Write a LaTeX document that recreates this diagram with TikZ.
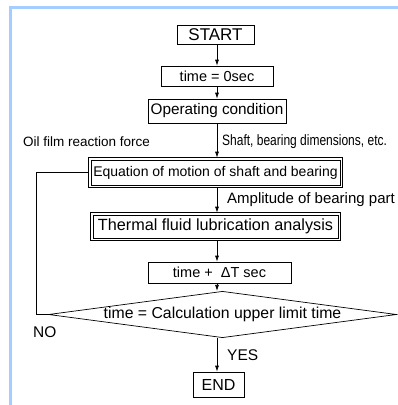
\documentclass[tikz,border=0pt]{standalone}
\usepackage{fontspec}
\setmainfont{Liberation Sans}
\usetikzlibrary{arrows.meta,shapes.geometric}
\definecolor{framecol}{RGB}{163,206,255}
\newcommand{\fs}[1]{\fontsize{#1}{#1}\selectfont}
\begin{document}
\begin{tikzpicture}[x=1pt,y=-1pt,
    flow/.style={draw,line width=0.7pt,inner sep=0pt,font=\fs{15}},
    arrow/.style={line width=0.7pt,-{Latex[length=6pt,width=4pt]}},
    note/.style={anchor=west,inner sep=0pt,font=\fs{15}}]
    \useasboundingbox (0,0) rectangle (398,405);

    % Frame
    \draw[framecol,line width=3pt] (10.5,405) -- (10.5,7.5) -- (398,7.5);

    % Boxes
    \node[flow,minimum width=77pt,minimum height=19pt,font=\fs{17}] (start) at (215.5,34.5) {START};
    \node[flow,minimum width=112pt,minimum height=20pt,font=\fs{14.5}] (t0) at (217,76) {time = 0sec};
    \node[flow,minimum width=138pt,minimum height=24pt,font=\fs{15.3}] (opcond) at (217,111) {Operating condition};
    \node[flow,minimum width=249pt,minimum height=25pt,font=\fs{14}] (eqn) at (215.5,172.5) {Equation of motion of shaft and bearing};
    \node[flow,minimum width=245pt,minimum height=23pt,font=\fs{16.2}] (thermal) at (215.5,226.5) {Thermal fluid lubrication analysis};
    \node[flow,minimum width=143pt,minimum height=21pt,font=\fs{14.5}] (tdt) at (219.5,272.5) {time + ~ΔT sec};
    \node[flow,diamond,aspect=7.5,minimum width=339pt,minimum height=45pt,font=\fs{15.8}] (limit) at (222.5,314.5) {time = Calculation upper limit time};
    \node[flow,minimum width=51pt,minimum height=25pt,font=\fs{16}] (end) at (218.5,384.5) {END};

    % Outer lines of the double boxes
    \draw[line width=0.6pt] ([shift={(-2pt,2pt)}]eqn.north west) rectangle ([shift={(2pt,-2pt)}]eqn.south east);
    \draw[line width=0.6pt] ([shift={(-2pt,2pt)}]thermal.north west) rectangle ([shift={(2pt,-2pt)}]thermal.south east);

    % Labels
    \node[note,font=\fs{13.5}] (oil) at (23,142) {Oil film reaction force};
    \node[note] (shaft) at (222,142) {\scalebox{0.8}[1]{Shaft, bearing dimensions, etc.}};
    \node[note] (amp) at (227,200) {Amplitude of bearing part};
    \node[note,font=\fs{15.5}] (no) at (33,332) {NO};
    \node[note,font=\fs{15.5}] (yes) at (227,355) {YES};

    % Arrows
    \draw[arrow] (start.south -| t0) -- (t0.north);
    \draw[arrow] (t0.south) -- (opcond.north);
    \draw[arrow] (opcond.south) -- ([yshift=2pt]opcond.south |- eqn.north);
    \draw[arrow] ([yshift=-2pt]opcond.south |- eqn.south) -- ([yshift=2pt]opcond.south |- thermal.north);
    \draw[arrow] ([yshift=-2pt]opcond.south |- thermal.south) -- (opcond.south |- tdt.north);
    \draw[arrow] (opcond.south |- tdt.south) -- (opcond.south |- limit.north);
    \draw[arrow] (opcond.south |- limit.south) -- (opcond.south |- end.north);

    % Loop back
    \coordinate (nocorner) at (36,314.5);
    \draw[line width=0.7pt] ([xshift=-2pt]eqn.west) -| (nocorner) -- (limit.west);
\end{tikzpicture}
\end{document}
